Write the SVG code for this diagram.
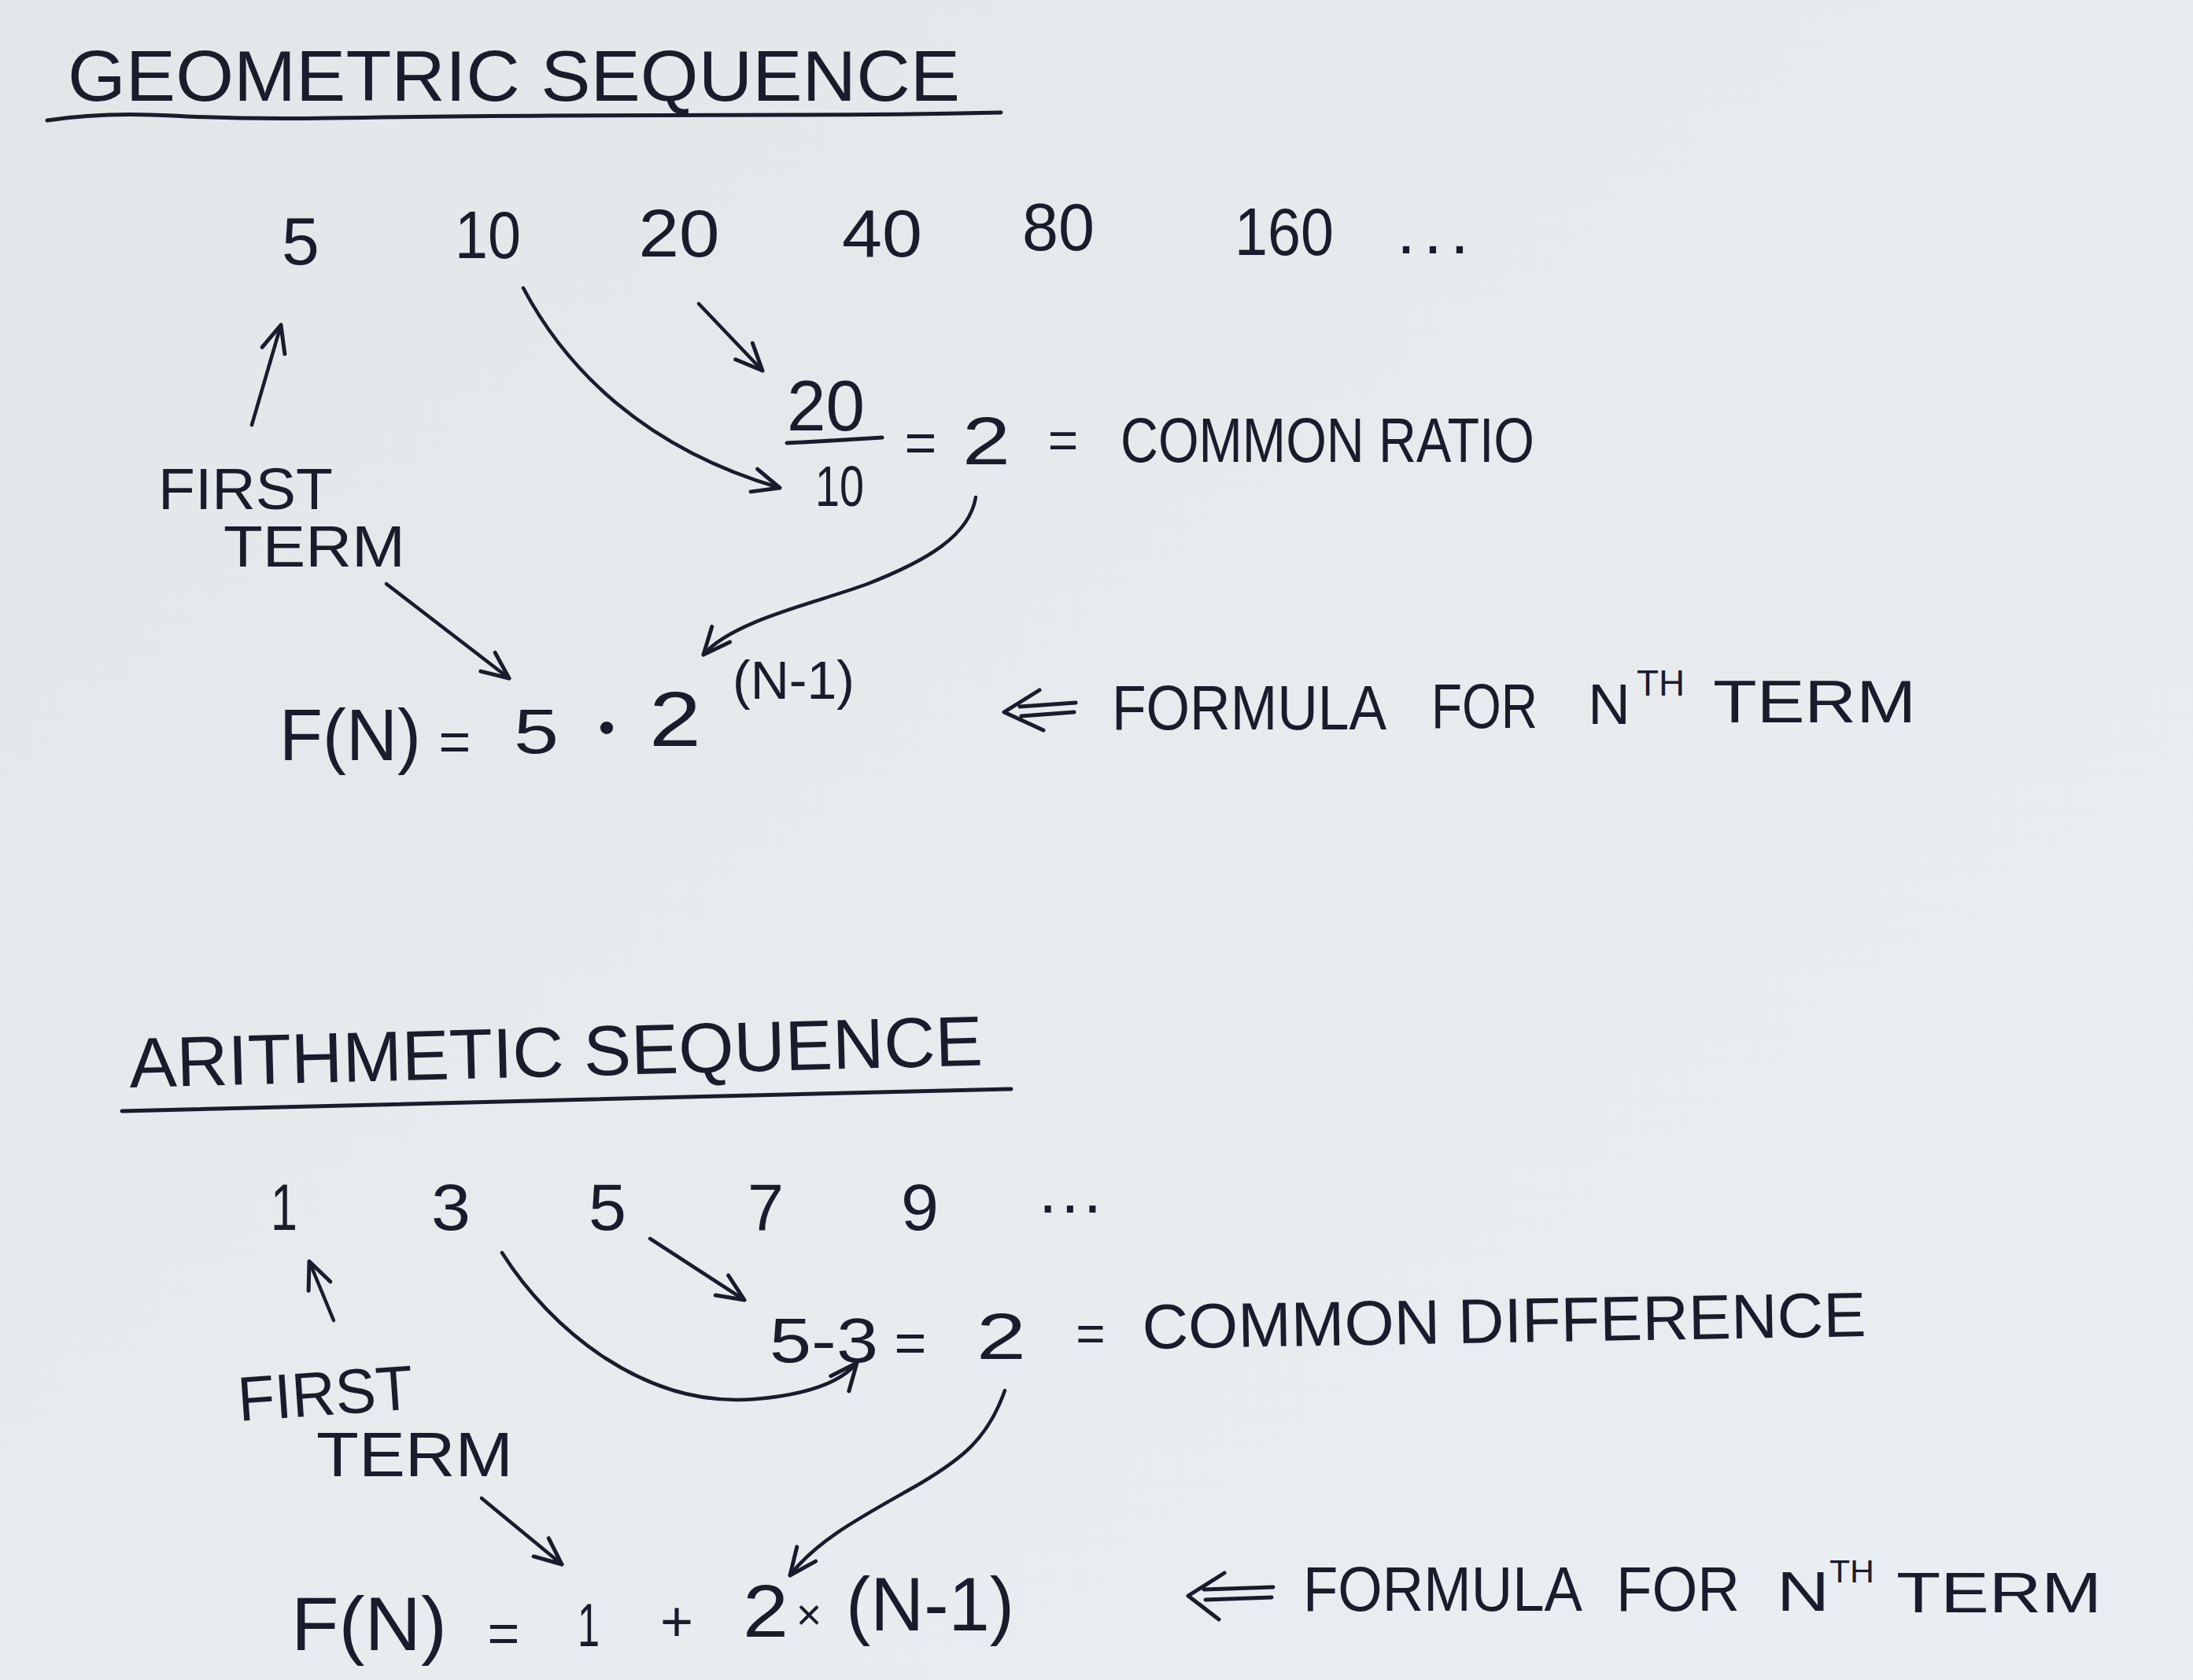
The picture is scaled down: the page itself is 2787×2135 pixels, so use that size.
<svg xmlns="http://www.w3.org/2000/svg" width="2787" height="2135" viewBox="0 0 2787 2135">
<defs>
<linearGradient id="paper" x1="0" y1="0" x2="1" y2="1">
<stop offset="0" stop-color="#e3e6e8"/>
<stop offset="0.5" stop-color="#e7ebee"/>
<stop offset="1" stop-color="#e9eef2"/>
</linearGradient>
<marker id="ah" viewBox="-40 -20 44 40" refX="0" refY="0" markerWidth="44" markerHeight="40" markerUnits="userSpaceOnUse" orient="auto">
<path d="M-34,-15 L0,0 L-34,15" fill="none" stroke="#181c2b" stroke-width="5" stroke-linecap="round" stroke-linejoin="round"/>
</marker>
<style>
text{font-family:"Liberation Sans","DejaVu Sans",sans-serif;fill:#181c2b;}
.t{font-size:90px;}
.n{font-size:86px;}
.l{font-size:80px;}
.m{text-anchor:middle;}
.ink{fill:none;stroke:#181c2b;stroke-width:5;stroke-linecap:round;stroke-linejoin:round;}
.c{fill:none;stroke:#181c2b;stroke-width:4.5;stroke-linecap:round;marker-end:url(#ah);}
</style>
</defs>
<rect width="2787" height="2135" fill="url(#paper)"/>

<!-- ===== Geometric sequence ===== -->
<g id="geo-title">
<text class="t" x="86" y="128" textLength="1134" lengthAdjust="spacingAndGlyphs">GEOMETRIC SEQUENCE</text>
<path class="ink" d="M60,153 Q130,142 220,147 T420,150 T700,147 T1000,146 T1272,143"/>
</g>

<g id="geo-terms">
<text class="n m" x="382" y="336">5</text>
<text class="n m" x="620" y="328" textLength="84" lengthAdjust="spacingAndGlyphs">10</text>
<text class="n m" x="863" y="326" textLength="103" lengthAdjust="spacingAndGlyphs">20</text>
<text class="n m" x="1121" y="326" textLength="102" lengthAdjust="spacingAndGlyphs">40</text>
<text class="n m" x="1345" y="318" textLength="92" lengthAdjust="spacingAndGlyphs">80</text>
<text class="n m" x="1632" y="324" textLength="126" lengthAdjust="spacingAndGlyphs">160</text>
<text class="n" x="1775" y="322" textLength="92" lengthAdjust="spacing">...</text>
</g>

<g id="geo-first-term">
<text style="font-size:74px" x="201" y="647" textLength="222" lengthAdjust="spacingAndGlyphs">FIRST</text>
<text style="font-size:74px" x="284" y="720" textLength="231" lengthAdjust="spacingAndGlyphs">TERM</text>
</g>

<g id="geo-ratio">
<text style="font-size:90px" x="1000" y="547" textLength="99" lengthAdjust="spacingAndGlyphs">20</text>
<path class="ink" d="M1000,563 Q1060,560 1121,556"/>
<text style="font-size:72px" x="1036" y="643" textLength="62" lengthAdjust="spacingAndGlyphs">10</text>
<text style="font-size:70px" class="m" x="1170" y="587">=</text>
<text style="font-size:86px" x="1223" y="590" textLength="61" lengthAdjust="spacingAndGlyphs">2</text>
<text style="font-size:66px" class="m" x="1351" y="582">=</text>
<text class="l" x="1424" y="587" textLength="526" lengthAdjust="spacingAndGlyphs">COMMON RATIO</text>
</g>

<g id="geo-formula">
<text style="font-size:92px" x="355" y="966" textLength="180" lengthAdjust="spacingAndGlyphs">F(N)</text>
<text style="font-size:70px" class="m" x="578" y="967">=</text>
<text style="font-size:80px" x="653" y="957" textLength="57" lengthAdjust="spacingAndGlyphs">5</text>
<text style="font-size:60px" class="m" x="771" y="945">•</text>
<text style="font-size:98px" x="825" y="948" textLength="66" lengthAdjust="spacingAndGlyphs">2</text>
<text style="font-size:68px" x="931" y="888" textLength="155" lengthAdjust="spacingAndGlyphs">(N-1)</text>
</g>

<g id="geo-formula-label">
<path class="ink" d="M1321,877 L1276,905 L1326,928 M1296,898 L1367,893 M1298,910 L1365,905"/>
<text class="l" x="1413" y="927" textLength="349" lengthAdjust="spacingAndGlyphs">FORMULA</text>
<text class="l" x="1819" y="925" textLength="135" lengthAdjust="spacingAndGlyphs">FOR</text>
<text style="font-size:72px" x="2018" y="920" textLength="54" lengthAdjust="spacingAndGlyphs">N</text>
<text style="font-size:46px" x="2080" y="884" textLength="61" lengthAdjust="spacingAndGlyphs">TH</text>
<text style="font-size:76px" x="2177" y="918" textLength="258" lengthAdjust="spacingAndGlyphs">TERM</text>
</g>

<!-- ===== Arithmetic sequence ===== -->
<g id="arith-title">
<text class="t" x="165" y="1382" textLength="1085" lengthAdjust="spacingAndGlyphs" transform="rotate(-1.5 165 1382)">ARITHMETIC SEQUENCE</text>
<path class="ink" d="M155,1412 C500,1404 900,1393 1285,1384"/>
</g>

<g id="arith-terms">
<text style="font-size:84px" class="m" x="361" y="1563" textLength="34" lengthAdjust="spacingAndGlyphs">1</text>
<text style="font-size:84px" class="m" x="573" y="1563" textLength="50" lengthAdjust="spacingAndGlyphs">3</text>
<text style="font-size:84px" class="m" x="772" y="1563" textLength="48" lengthAdjust="spacingAndGlyphs">5</text>
<text style="font-size:84px" class="m" x="973" y="1563" textLength="46" lengthAdjust="spacingAndGlyphs">7</text>
<text style="font-size:84px" class="m" x="1169" y="1563" textLength="48" lengthAdjust="spacingAndGlyphs">9</text>
<text style="font-size:84px" x="1320" y="1541" textLength="80" lengthAdjust="spacing">...</text>
</g>

<g id="arith-first-term">
<text class="l" x="304" y="1806" textLength="223" lengthAdjust="spacingAndGlyphs" transform="rotate(-4 304 1806)">FIRST</text>
<text class="l" x="402" y="1876" textLength="250" lengthAdjust="spacingAndGlyphs">TERM</text>
</g>

<g id="arith-difference">
<text style="font-size:80px" x="978" y="1731" textLength="138" lengthAdjust="spacingAndGlyphs">5-3</text>
<text style="font-size:70px" class="m" x="1157" y="1731">=</text>
<text style="font-size:84px" x="1241" y="1727" textLength="63" lengthAdjust="spacingAndGlyphs">2</text>
<text style="font-size:64px" class="m" x="1386" y="1717">=</text>
<text class="l" x="1452" y="1714" textLength="920" lengthAdjust="spacingAndGlyphs" transform="rotate(-1 1452 1714)">COMMON DIFFERENCE</text>
</g>

<g id="arith-formula">
<text style="font-size:96px" x="370" y="2097" textLength="198" lengthAdjust="spacingAndGlyphs">F(N)</text>
<text style="font-size:70px" class="m" x="640" y="2100">=</text>
<text style="font-size:78px" class="m" x="748" y="2092" textLength="28" lengthAdjust="spacingAndGlyphs">1</text>
<text style="font-size:72px" class="m" x="860" y="2085">+</text>
<text style="font-size:94px" x="944" y="2080" textLength="58" lengthAdjust="spacingAndGlyphs">2</text>
<text style="font-size:56px" class="m" x="1028" y="2071">×</text>
<text style="font-size:96px" x="1075" y="2072" textLength="214" lengthAdjust="spacingAndGlyphs">(N-1)</text>
</g>

<g id="arith-formula-label">
<path class="ink" d="M1556,1999 L1510,2028 L1549,2058 M1530,2020 L1618,2017 M1532,2033 L1616,2030"/>
<text class="l" x="1656" y="2047" textLength="355" lengthAdjust="spacingAndGlyphs">FORMULA</text>
<text class="l" x="2054" y="2047" textLength="157" lengthAdjust="spacingAndGlyphs">FOR</text>
<text style="font-size:70px" x="2258" y="2047" textLength="67" lengthAdjust="spacingAndGlyphs">N</text>
<text style="font-size:40px" x="2325" y="2011" textLength="57" lengthAdjust="spacingAndGlyphs">TH</text>
<text style="font-size:72px" x="2410" y="2049" textLength="261" lengthAdjust="spacingAndGlyphs">TERM</text>
</g>

<!-- ===== Connectors ===== -->
<g id="connectors">
<path class="c" d="M320,540 L357,413"/>
<path class="c" d="M665,366 C720,470 820,570 991,620"/>
<path class="c" d="M888,386 L969,471"/>
<path class="c" d="M1240,632 C1232,680 1180,712 1100,743 C1030,768 930,790 894,832"/>
<path class="c" d="M491,742 L647,862"/>
<path class="c" d="M424,1678 L393,1603"/>
<path class="c" d="M638,1592 C700,1690 820,1790 960,1778 C1030,1772 1070,1755 1089,1732"/>
<path class="c" d="M826,1574 L946,1652"/>
<path class="c" d="M1277,1767 C1255,1830 1220,1855 1170,1885 C1100,1925 1040,1955 1004,2002"/>
<path class="c" d="M612,1904 L714,1988"/>
</g>
</svg>
